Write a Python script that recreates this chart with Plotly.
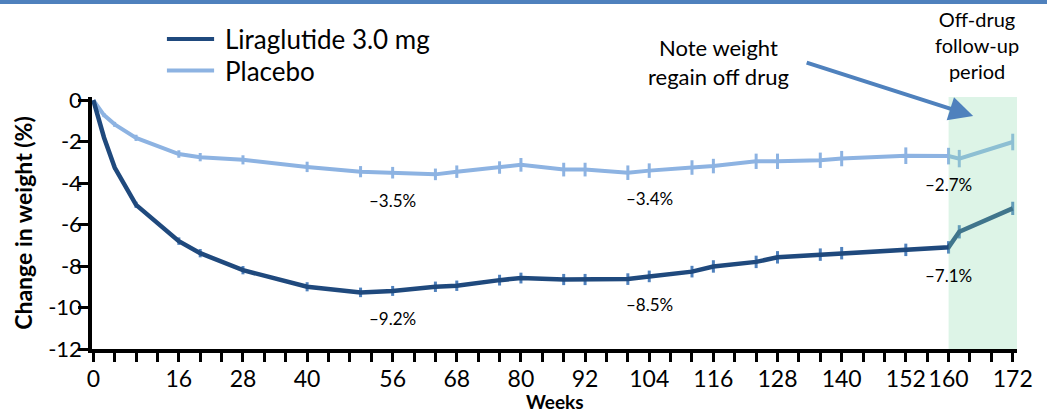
import plotly.graph_objects as go

# Study visits (weeks) and mean % change in body weight
weeks = [0, 2, 4, 8, 16, 20, 28, 40, 50, 56, 64, 68, 76, 80, 88, 92, 100, 104,
         112, 116, 124, 128, 136, 140, 152, 160, 162, 172]

liraglutide = [0, -1.8, -3.25, -5.05, -6.8, -7.38, -8.2, -9.0, -9.27, -9.2, -9.0, -8.95,
               -8.68, -8.58, -8.65, -8.65, -8.63, -8.5, -8.27, -8.02, -7.8, -7.58, -7.45,
               -7.38, -7.22, -7.1, -6.35, -5.22]
liraglutide_err = [0, 0.08, 0.1, 0.15, 0.18, 0.2, 0.2, 0.22, 0.23, 0.24, 0.25, 0.25, 0.26,
                   0.26, 0.27, 0.27, 0.28, 0.28, 0.28, 0.3, 0.3, 0.3, 0.3, 0.3, 0.3, 0.3,
                   0.32, 0.32]

placebo = [0, -0.72, -1.17, -1.82, -2.6, -2.75, -2.88, -3.22, -3.45, -3.5, -3.58, -3.45,
           -3.25, -3.12, -3.35, -3.35, -3.5, -3.4, -3.25, -3.18, -2.95, -2.95, -2.9, -2.82,
           -2.68, -2.7, -2.82, -2.02]
placebo_err = [0, 0.1, 0.12, 0.15, 0.18, 0.2, 0.22, 0.25, 0.27, 0.28, 0.28, 0.3, 0.3, 0.33,
               0.33, 0.33, 0.35, 0.35, 0.35, 0.35, 0.37, 0.37, 0.37, 0.37, 0.4, 0.4, 0.42,
               0.4]

series_names = ["Liraglutide 3.0 mg", "Placebo"]

# Weeks whose values are printed under the curves
labelled_weeks = [56, 104, 160]

x_tick_vals = [0, 16, 28, 40, 56, 68, 80, 92, 104, 116, 128, 140, 152, 160, 172]
y_tick_vals = [0, -2, -4, -6, -8, -10, -12]

off_drug_start = 160
off_drug_end = 172.8

DARK = "#1f497d"
LIGHT = "#8db3e2"
MID = "#4f81bd"
FONT = "Lato"

fig = go.Figure()

fig.add_trace(go.Scatter(
    x=weeks, y=placebo, name=series_names[1], mode="lines", showlegend=False,
    line=dict(color=LIGHT, width=4),
    error_y=dict(type="data", array=placebo_err, color=LIGHT, thickness=3, width=0),
))
fig.add_trace(go.Scatter(
    x=weeks, y=liraglutide, name=series_names[0], mode="lines", showlegend=False,
    line=dict(color=DARK, width=4.5),
    error_y=dict(type="data", array=liraglutide_err, color=MID, thickness=3, width=0),
))

# Key: a line swatch plus a name for each series
for name, colour, ky in zip(series_names, (DARK, LIGHT), (1.230, 1.105)):
    fig.add_shape(type="line", xref="paper", yref="paper", x0=0.081, x1=0.132, y0=ky, y1=ky,
                  line=dict(color=colour, width=4))
    fig.add_annotation(x=0.1416, y=ky, xref="paper", yref="paper", xanchor="left",
                       yanchor="middle", text=name, showarrow=False,
                       font=dict(family=FONT, size=26, color="black"))

# Value labels beneath each curve at the selected weeks
for series in (placebo, liraglutide):
    for wk in labelled_weeks:
        v = series[weeks.index(wk)]
        fig.add_annotation(
            x=wk, y=v, text=f"\u2013{abs(v):.1f}%", showarrow=False,
            yshift=-28, font=dict(family=FONT, size=17, color="black"),
        )

# Off-drug follow-up shading
fig.add_shape(
    type="rect", xref="x", yref="y", x0=off_drug_start, x1=off_drug_end, y0=-12, y1=0.15,
    fillcolor="#8fd9b0", opacity=0.3, line_width=0, layer="above",
)

# Header rule across the top
fig.add_shape(
    type="rect", xref="paper", yref="paper", x0=-0.2, x1=1.2, y0=1.369, y1=1.39,
    fillcolor=MID, line_width=0,
)

fig.add_annotation(
    x=164.6, y=-0.77, ax=-168, ay=-54, axref="pixel", ayref="pixel",
    text="", showarrow=True, arrowhead=2, arrowsize=1.2, arrowwidth=4, arrowcolor=MID,
)
fig.add_annotation(
    x=0.677, y=1.139, xref="paper", yref="paper", xanchor="center", yanchor="middle",
    showarrow=False, text="Note weight<br>regain off drug", align="center",
    font=dict(family=FONT, size=22, color="black"),
)
fig.add_annotation(
    x=0.957, y=1.206, xref="paper", yref="paper", xanchor="center", yanchor="middle",
    showarrow=False, text="Off-drug<br>follow-up<br>period", align="center",
    font=dict(family=FONT, size=20, color="black"),
)

# Horizontal axis title, set just under the tick labels
fig.add_annotation(
    x=0.5, y=-0.262, xref="paper", yref="paper", xanchor="center", yanchor="bottom",
    showarrow=False, text="<b>Weeks</b>",
    font=dict(family=FONT, size=19, color="black"),
)

fig.update_layout(
    width=1047, height=416,
    margin=dict(l=92, r=30, t=97, b=67, autoexpand=False),
    paper_bgcolor="white", plot_bgcolor="white",
    font=dict(family=FONT, color="black"),
    showlegend=False,
    xaxis=dict(
        range=[-0.243, 172.8], showgrid=False, zeroline=False, automargin=False,
        showline=True, linecolor="black", linewidth=3.5,
        tickmode="array", tickvals=x_tick_vals, ticktext=[str(v) for v in x_tick_vals],
        tickangle=0, ticklabelstandoff=-2,
        ticks="outside", ticklen=9, tickwidth=3, tickcolor="black",
        tickfont=dict(family=FONT, size=23, color="black"),
        minor=dict(tick0=0, dtick=4, ticks="outside", ticklen=9, tickwidth=3, tickcolor="black"),
    ),
    yaxis=dict(
        range=[-12, 0.15], showgrid=False, zeroline=False, automargin=False,
        showline=True, linecolor="black", linewidth=3.5,
        tickmode="array", tickvals=y_tick_vals, ticktext=[str(v) for v in y_tick_vals],
        ticks="outside", ticklen=10, tickwidth=3, tickcolor="black",
        ticklabelstandoff=-8,
        tickfont=dict(family=FONT, size=22, color="black"),
        title=dict(text="<b>Change in weight (%)</b>", font=dict(family=FONT, size=23, color="black"), standoff=10),
    ),
)

fig.write_html("out.html")
